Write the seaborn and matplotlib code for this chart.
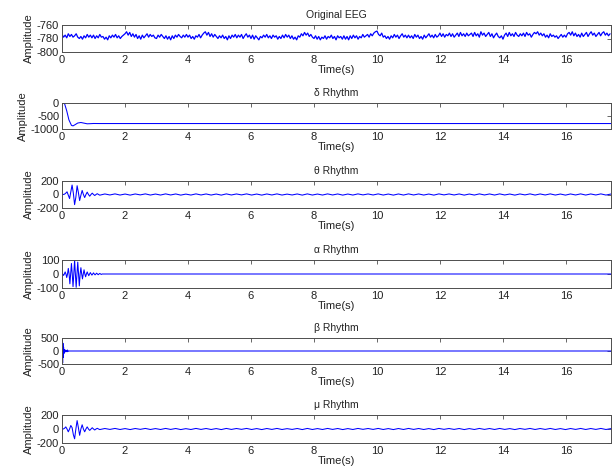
import numpy as np
import matplotlib
matplotlib.use("Agg")
import matplotlib.pyplot as plt
import seaborn as sns

# ---------------- data ----------------
T_END = 17.43

eeg = [
    -774,-778,-775,-779,-773,-777,-774,-778,-776,-773,-778,-780,-777,-781,-776,-779,-774,-778,-775,-779,
    -775,-780,-776,-779,-774,-778,-777,-781,-778,-782,-776,-779,-775,-778,-774,-779,-776,-780,-777,-775,
    -773,-770,-775,-771,-777,-773,-778,-774,-780,-776,-781,-775,-779,-776,-773,-778,-774,-777,-775,-779,
    -780,-775,-778,-774,-777,-780,-776,-781,-777,-782,-776,-780,-775,-778,-774,-777,-779,-775,-778,-774,
    -778,-775,-780,-777,-781,-776,-778,-774,-779,-775,-772,-770,-775,-771,-777,-773,-778,-774,-777,-780,
    -776,-779,-775,-780,-777,-782,-776,-780,-775,-778,-774,-779,-775,-778,-774,-780,-776,-773,-778,-775,
    -780,-775,-781,-776,-779,-782,-777,-779,-775,-778,-774,-779,-776,-780,-775,-778,-776,-781,-777,-780,
    -775,-779,-774,-778,-775,-780,-776,-781,-778,-782,-776,-778,-773,-776,-771,-775,-772,-777,-774,-778,
    -780,-776,-781,-777,-782,-778,-780,-776,-781,-777,-779,-775,-780,-777,-782,-776,-779,-777,-781,-776,
    -781,-777,-782,-776,-780,-775,-779,-776,-781,-777,-779,-774,-778,-776,-774,-778,-773,-776,-772,-770,
    -769,-774,-776,-772,-778,-776,-780,-777,-781,-776,-779,-774,-778,-775,-780,-776,-773,-778,-775,-779,
    -775,-779,-776,-780,-774,-778,-775,-780,-777,-781,-775,-779,-776,-773,-778,-775,-779,-774,-778,-776,
    -772,-777,-773,-778,-774,-776,-772,-777,-773,-778,-775,-772,-777,-771,-776,-773,-777,-772,-776,-774,
    -772,-777,-771,-776,-773,-778,-770,-775,-772,-777,-774,-771,-777,-773,-779,-775,-772,-777,-779,-776,
    -781,-775,-772,-777,-771,-776,-773,-777,-771,-775,-777,-773,-776,-772,-777,-771,-775,-773,-778,-774,
    -771,-773,-770,-775,-772,-776,-773,-778,-775,-779,-773,-777,-775,-778,-776,-780,-777,-774,-778,-775,
    -778,-773,-771,-775,-770,-776,-772,-777,-774,-778,-772,-777,-774,-771,-777,-773,-770,-775,-772,-777,
    -774,-771,-776,-772,-770,-775,-772,-776,-773,
]

delta_t = [0, 0.08, 0.15, 0.22, 0.30, 0.35, 0.42, 0.50, 0.60, 0.70, 0.80, 0.90, 1.00, 1.20, 17.43]
delta_y = [0, -20, -300, -650, -860, -880, -830, -770, -750, -775, -800, -795, -788, -790, -790]

theta_head = [0, 0, 5, 20, 40, -10, -60, 40, 140, 20, -150, -40, 130, 30, -90, -10,
              60, 0, -45, 0, 35, 0, -25, 0, 20, 0, -15, 0, 12, 0, -10]
theta_tail = [
    8,-7,9,-8,7,-9,8,-6,9,-8,7,-8,9,-7,8,-9,6,-8,9,-7,
    8,-8,7,-9,9,-7,8,-6,9,-8,7,-9,8,-7,9,-8,6,-7,8,-9,
    9,-8,7,-8,9,-7,8,-9,7,-8,9,-6,8,-7,9,-8,7,-9,8,-8,
    9,-7,8,-8,7,-9,9,-6,8,-7,8,-9,7,-8,9,-7,8,-8,9,-7,
    7,-9,8,-6,9,-8,8,-7,9,-8,7,-9,8,-7,9,-8,8,-7,9,-8,7,
]

alpha_head = [0, 0, -10, 0, 15, 0, -25, 0, 40, 0, -70, 0, 75, 0, -90, 0, 100, 0, -95, 0,
              85, 0, -85, 0, 45, 0, -35, 0, 30, 0, -20, 0, 15, 0, -12, 0, 10, 0, -8, 0,
              8, 0, -6, 0, 6, 0, -5, 0, 4, 0, -3, 0, 0]

beta_head = [0, 350, -460, 300, -250, 150, -100, 60, -50, 30, 40, -30, 20, -10, 10, 0,
             -30, 40, -20, 10, 0]

mu_head = [0, 0, 10, 30, 0, -40, 0, 50, 20, -80, -140, 0, 120, 20, -90, 0,
           60, 0, -40, 0, 30, 0, -20, 0, 18, 0, -14, 0, 10, 0, -8]
mu_tail = [
    7,-6,8,-7,6,-8,7,-5,8,-7,6,-7,8,-6,7,-8,5,-7,8,-6,
    7,-7,6,-8,8,-6,7,-5,8,-7,6,-8,7,-6,8,-7,5,-6,7,-8,
    8,-7,6,-7,8,-6,7,-8,6,-7,8,-5,7,-6,8,-7,6,-8,7,-7,
    8,-6,7,-7,6,-8,8,-5,7,-6,7,-8,6,-7,8,-6,7,-7,8,-6,
    6,-8,7,-5,8,-7,7,-6,8,-7,6,-8,7,-6,8,-7,7,-6,8,-7,6,
]

titles = ["Original EEG", "δ Rhythm", "θ Rhythm", "α Rhythm", "β Rhythm", "μ Rhythm"]
ylims = [(-800, -760), (-1000, 0), (-200, 200), (-100, 100), (-500, 500), (-200, 200)]
yticks = [[-800, -780, -760], [-1000, -500, 0], [-200, 0, 200],
          [-100, 0, 100], [-500, 0, 500], [-200, 0, 200]]
xticks = [0, 2, 4, 6, 8, 10, 12, 14, 16]

# ---------------- build time axes ----------------
def head_tail(head, step, tail=None):
    th = np.arange(len(head)) * step
    if tail is None:
        return np.r_[th, T_END], np.r_[head, head[-1]]
    tstep = (T_END - th[-1]) / len(tail)
    tt = th[-1] + tstep * np.arange(1, len(tail) + 1)
    return np.r_[th, tt], np.r_[head, tail]

series = [
    (np.linspace(0, 17.4, len(eeg)), np.array(eeg, float)),
    (np.array(delta_t), np.array(delta_y, float)),
    head_tail(theta_head, 0.04, theta_tail),
    head_tail(alpha_head, 0.025),
    head_tail(beta_head, 0.01),
    head_tail(mu_head, 0.04, mu_tail),
]

# ---------------- plotting ----------------
sns.set_style("white")
plt.rcParams["font.family"] = ["Liberation Sans", "DejaVu Sans"]
plt.rcParams["font.size"] = 7.5

W, H = 615, 472
fig = plt.figure(figsize=(W / 100, H / 100), dpi=100)
fig.patch.set_facecolor("white")

boxes = [(25, 52), (103, 129), (181, 208), (260, 288), (338, 364), (415, 443)]
left, right = 62, 611
axc = "#4d4d4d"

for i, ((top, bot), (t, y)) in enumerate(zip(boxes, series)):
    ax = fig.add_axes([left / W, 1 - bot / H, (right - left) / W, (bot - top) / H])
    sns.lineplot(x=t, y=y, ax=ax, color="#0000ff",
                 linewidth=0.9 if i == 0 else 0.75,
                 estimator=None, sort=False)
    ax.set_xlim(0, T_END)
    ax.set_ylim(*ylims[i])
    ax.set_xticks(xticks)
    ax.set_yticks(yticks[i])
    ax.set_xticklabels([str(v) for v in xticks])
    ax.set_yticklabels([str(v) for v in yticks[i]])
    ax.tick_params(direction="in", length=3, width=0.6, colors=axc,
                   labelcolor="#222222", labelsize=8, pad=2,
                   top=True, right=True)
    for s in ax.spines.values():
        s.set_color(axc)
        s.set_linewidth(0.7)
    ax.set_title(titles[i], fontsize=7.5, pad=5, color="#222222")
    ax.set_xlabel("Time(s)", fontsize=8, labelpad=0, color="#222222")
    ax.set_ylabel("Amplitude", fontsize=8, labelpad=2, color="#222222")
    ax.set_facecolor("white")

fig.savefig("out.png", dpi=100, facecolor="white")
